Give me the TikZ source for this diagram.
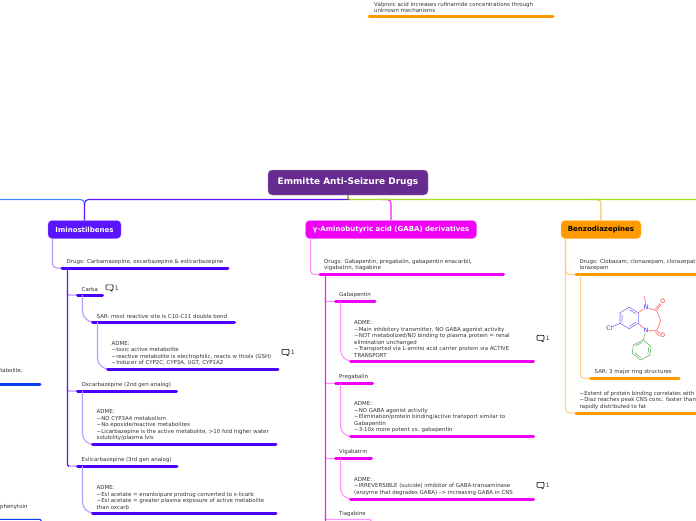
\documentclass[tikz,border=0pt]{standalone}
\usepackage{fontspec}
\setmainfont{DejaVu Sans}
\definecolor{vio}{HTML}{5A14FF}
\definecolor{viob}{HTML}{4B00FF}
\definecolor{viol}{HTML}{B79CFF}
\definecolor{mag}{HTML}{F020F8}
\definecolor{magb}{HTML}{F000F5}
\definecolor{magl}{HTML}{FF90FF}
\definecolor{org}{HTML}{FF9A00}
\definecolor{orgl}{HTML}{FFD089}
\definecolor{pur}{HTML}{672A8E}
\definecolor{txt}{HTML}{333333}
\definecolor{lblue}{HTML}{3B8BFF}
\definecolor{lgreen}{HTML}{A6DC20}
\definecolor{dblue}{HTML}{0B3CF0}
\definecolor{olive}{HTML}{8A8A30}
\tikzset{
 x=1pt,y=-1pt,
 lab/.style={anchor=south west,inner sep=0pt,align=left,text=txt,font=\fontsize{5.45}{6.55}\selectfont},
 bar/.style={line width=3pt,line cap=round},
 top/.style={rounded corners=4pt,minimum height=18pt,inner sep=0pt,text=white,font=\bfseries\fontsize{7}{8}\selectfont},
 note/.style={font=\fontsize{6}{7}\selectfont,text=txt,inner sep=0pt},
 link/.style={line width=1.1pt,rounded corners=4pt},
 swoop/.style={line width=1.1pt,rounded corners=11pt},
 nub/.style={line width=1.1pt,rounded corners=1pt},
 mol/.style={line width=.6pt},
 molr/.style={line width=.6pt,rounded corners=1.5pt},
 atom/.style={inner sep=0pt,font=\fontsize{6}{7}\selectfont},
}
\newcommand{\cmt}[3]{\draw[line width=.6pt,line join=round,shift={(#2,#3)}] (0.8,-3.2)--(6.2,-3.2)--(7,-2.4)--(7,1)--(6.2,1.8)--(5.8,1.8)--(6.2,3.4)--(4,1.8)--(0.8,1.8)--(0,1)--(0,-2.4)--cycle;
\node[note] (#1) at (#2+10.8,#3) {1};}
\begin{document}
\begin{tikzpicture}
\useasboundingbox (0,0) rectangle (696,520);
\node[rounded corners=4pt,fill=pur,draw=pur!55!white,minimum width=160pt,minimum height=25pt,inner sep=0pt,text=white,font=\bfseries\fontsize{8.95}{10}\selectfont] (root) at (348,182.5) {Emmitte Anti-Seizure Drugs};
\coordinate (hub) at (348,199.5);
\coordinate (west) at (0,199.5);
\coordinate (east) at (704,199.5);
\coordinate (forkw) at (84.5,199.5);
% level 1
\node[top,fill=vio,draw=vio!60!white,minimum width=73pt] (imin) at (84.5,229.5) {Iminostilbenes};
\node[top,fill=magb,draw=magb!60!white,minimum width=171pt] (gaba) at (391,229.5) {γ-Aminobutyric acid (GABA) derivatives};
\node[top,fill=org,draw=org!60!white,minimum width=80pt,text=black] (benzo) at (601,229.5) {Benzodiazepines};
\draw[link,lblue] (west) -- (forkw) -- (84.5,206);
\draw[link,vio] (hub) -- (forkw) -- (imin.north);
\draw[link,mag] (381,199.5) -- (391,199.5) -- (gaba.north);
\draw[link,orgl!70!org] (591,199.5) -- (601,199.5) -- (benzo.north);
\draw[link,lgreen] (hub) -- (east) -- (704,210);
\draw[nub,olive] (root.south) -- (hub) -- (350,199.5);
% Iminostilbenes
\coordinate (a1a) at (62,268); \coordinate (a1b) at (228,268);
\coordinate (a1s) at (52.5,238.5);
\draw[link,viol] (a1s) -- (52.5,268) -- (a1a);
\draw[bar,viob] (a1a) -- (a1b);
\node[lab] (a1) at (66.5,264.5) {Drugs: Carbamazepine, oxcarbazepine \& eslicarbazepine};
\coordinate (a2a) at (77.5,295); \coordinate (a2b) at (102.5,295);
\coordinate (a5a) at (77.5,391); \coordinate (a5b) at (176.5,391);
\coordinate (a7a) at (77.5,466); \coordinate (a7b) at (177,466);
\coordinate (at) at (67.5,268); \coordinate (a2t) at (67.5,295); \coordinate (a5t) at (67.5,391); \coordinate (a7t) at (67.5,466);
\draw[nub,viol] (67.5,291) -- (a2t) -- (a2a);
\draw[nub,viol] (67.5,387) -- (a5t) -- (a5a);
\draw[nub,viol] (67.5,462) -- (a7t) -- (a7a);
\draw[nub,vio] (at) -- (a7t) -- (69,466);
\draw[bar,viob] (a2a) -- (a2b);
\node[lab] (a2) at (81.5,291.5) {Carba};
\cmt{c1}{106}{288}
\coordinate (a3a) at (92.5,322); \coordinate (a3b) at (234.5,322);
\draw[swoop,viol] (82.5,295) -- (82.5,322) -- (a3a);
\draw[bar,viob] (a3a) -- (a3b);
\node[lab] (a3) at (96.5,318.5) {SAR: most reactive site is C10-C11 double bond};
\coordinate (a4a) at (107.5,369); \coordinate (a4b) at (278,369);
\draw[swoop,viol] (97.5,322) -- (97.5,369) -- (a4a);
\draw[bar,viob] (a4a) -- (a4b);
\node[lab] (a4) at (111.5,365.5) {ADME:\\\textasciitilde toxic active metabolite\\\textasciitilde reactive metabolite is electrophilic, reacts w thiols (GSH)\\\textasciitilde Inducer of CYP2C, CYP3A, UGT, CYP1A2};
\cmt{c2}{282}{352.5}
\draw[bar,viob] (a5a) -- (a5b);
\node[lab] (a5) at (81.5,387.5) {Oxcarbazepine (2nd gen analog)};
\coordinate (a6a) at (92.5,444.5); \coordinate (a6b) at (276,444.5);
\draw[swoop,viol] (82.5,391) -- (82.5,444.5) -- (a6a);
\draw[bar,viob] (a6a) -- (a6b);
\node[lab] (a6) at (96.5,441) {ADME:\\\textasciitilde NO CYP3A4 metabolism\\\textasciitilde No epoxide/reactive metabolites\\\textasciitilde Licarbazepine is the active metabolite, >10 fold higher water\\solubility/plasma lvls};
\draw[bar,viob] (a7a) -- (a7b);
\node[lab] (a7) at (81.5,462.5) {Eslicarbazepine (3rd gen analog)};
\coordinate (a8a) at (92.5,513); \coordinate (a8b) at (276,513);
\draw[swoop,viol] (82.5,466) -- (82.5,513) -- (a8a);
\draw[bar,viob] (a8a) -- (a8b);
\node[lab] (a8) at (96.5,509.5) {ADME:\\\textasciitilde Esl acetate = enantoipure prodrug converted to s-licarb\\\textasciitilde Esl acetate = greater plasma exposure of active metabolite\\than oxcarb};
% left fragments
\coordinate (l1a) at (0,384); \coordinate (l1b) at (40,384);
\draw[bar,dblue] (l1a) -- (l1b);
\node[lab,anchor=south east] (l1) at (23,373.5) {tabolite,};
\node[lab,anchor=south west] (l2) at (0,510) {phenytoin};
\coordinate (l2a) at (0,519.3); \coordinate (l2b) at (41,519.3);
\draw[nub,dblue] (l2a) -- (l2b) -- (41,525);
% GABA
\coordinate (b1a) at (320,274.5); \coordinate (b1b) at (503.5,274.5);
\draw[link,magl] (310.5,238.5) -- (310.5,274.5) -- (b1a);
\coordinate (b2a) at (335.5,301.5); \coordinate (b2b) at (375,301.5);
\coordinate (b4a) at (335.5,383.5); \coordinate (b4b) at (372.5,383.5);
\coordinate (b6a) at (335.5,458.5); \coordinate (b6b) at (371.5,458.5);
\coordinate (b8b) at (371,519.5);
\coordinate (bt) at (325.5,274.5); \coordinate (b2t) at (325.5,301.5); \coordinate (b4t) at (325.5,383.5); \coordinate (b6t) at (325.5,458.5); \coordinate (b8t) at (325.5,519.5); \coordinate (bend) at (325.5,526);
\draw[nub,magl] (325.5,298) -- (b2t) -- (b2a);
\draw[nub,magl] (325.5,380) -- (b4t) -- (b4a);
\draw[nub,magl] (325.5,455) -- (b6t) -- (b6a);
\draw[nub,magl] (325.5,515) -- (b8t) -- (b8b) -- (371,526);
\draw[nub,mag] (bt) -- (bend) -- (330,526);
\draw[bar,magb] (b1a) -- (b1b);
\node[lab] (b1) at (324,271) {Drugs: Gabapentin, pregabalin, gabapentin enacarbil,\\vigabatrin, tiagabine};
\draw[bar,magb] (b2a) -- (b2b);
\node[lab] (b2) at (339,298) {Gabapentin};
\coordinate (b3a) at (350.5,361); \coordinate (b3b) at (533.5,361);
\draw[swoop,magl] (340.5,301.5) -- (340.5,361) -- (b3a);
\draw[bar,magb] (b3a) -- (b3b);
\node[lab] (b3) at (354,357.5) {ADME:\\\textasciitilde Main inhibitory transmitter, NO GABA agonist activity\\\textasciitilde NOT metabolized/NO binding to plasma protein = renal\\elimination unchanged\\\textasciitilde Transported via L-amino acid carrier protein via ACTIVE\\TRANSPORT};
\cmt{c3}{537}{338.5}
\draw[bar,magb] (b4a) -- (b4b);
\node[lab] (b4) at (339,380) {Pregabalin};
\coordinate (b5a) at (350.5,436.5); \coordinate (b5b) at (533.5,436.5);
\draw[swoop,magl] (340.5,383.5) -- (340.5,436.5) -- (b5a);
\draw[bar,magb] (b5a) -- (b5b);
\node[lab] (b5) at (354,433) {ADME:\\\textasciitilde NO GABA agonist activity\\\textasciitilde Elimination/protein binding/active transport similar to\\Gabapentin\\\textasciitilde 3-10x more potent vs. gabapentin};
\draw[bar,magb] (b6a) -- (b6b);
\node[lab] (b6) at (339,455) {Vigabatrin};
\coordinate (b7a) at (350.5,499); \coordinate (b7b) at (533.5,499);
\draw[swoop,magl] (340.5,458.5) -- (340.5,499) -- (b7a);
\draw[bar,magb] (b7a) -- (b7b);
\node[lab] (b7) at (354,495.5) {ADME:\\\textasciitilde IRREVERSIBLE (suicide) inhibitor of GABA-transaminase\\(enzyme that degrades GABA) --> increasing GABA in CNS};
\cmt{c4}{537}{485.5}
\node[lab] (b8) at (339,516.5) {Tiagabine};
% Benzo
\coordinate (o1a) at (576,274.5); \coordinate (o1b) at (696,274.5);
\draw[link,orgl] (565.5,238.5) -- (565.5,413) -- (576,413);
\draw[link,orgl] (565.5,238.5) -- (565.5,274.5) -- (o1a);
\draw[bar,org] (o1a) -- (o1b);
\node[lab] (o1) at (579.5,271) {Drugs: Clobazam, clonazepam, clorazepat\\lorazepam};
\coordinate (o2a) at (590.5,378.5); \coordinate (o2b) at (679,378.5);
\draw[link,orgl] (580.5,274.5) -- (580.5,378.5) -- (o2a);
\draw[bar,org] (o2a) -- (o2b);
\node[lab] (o2) at (594.5,375) {SAR: 3 major ring structures};
\coordinate (o3a) at (576,413); \coordinate (o3b) at (696,413);
\draw[bar,org] (o3a) -- (o3b);
\node[lab] (o3) at (579.5,409.5) {\textasciitilde Extent of protein binding correlates with\\\textasciitilde Diaz reaches peak CNS conc. faster than\\rapidly distributed to fat};
% molecule
\node[atom,text=blue!85!white] (cl) at (609.3,328.3) {Cl};
\node[atom,text=blue!85!white] (n1) at (646,307.3) {N};
\node[atom,text=blue!85!white] (n2) at (646,330.7) {N};
\node[atom,text=red!85!white] (ox1) at (662.7,301.7) {O};
\node[atom,text=red!85!white] (ox2) at (662.7,335.7) {O};
\coordinate (me) at (644,296);
\coordinate (ph) at (643.3,340);
\draw[mol,blue!55!white,line join=round] (620,312.7) -- (629.3,307.3) -- (638.3,312.7) -- (638.3,323.3) -- (629.3,328.7) -- (620,323.3) -- cycle;
\draw[mol,blue!55!white] (622,314.5) -- (622,321.5) (629.3,309.7) -- (636,313.7) (629.3,326.3) -- (636,322.3);
\draw[molr,blue!55!white] (620,323.3) -- (613,326.5) -- (cl);
\draw[mol,red!60!white] (638.3,312.7) -- (n1) -- (656.7,310.7) -- (660.7,320.7) -- (656.7,330.7) -- (n2) -- (638.3,323.3);
\draw[molr,red!60!white] (n1) -- (645.4,301) -- (me);
\draw[mol,red!60!white] (656.7,310.7) -- (ox1) (655.2,309.4) -- (660,303.4);
\draw[mol,red!60!white] (656.7,330.7) -- (ox2) (655.4,332.2) -- (659.8,336.2);
\draw[molr,green!50!black!60!white] (n2) -- (644.2,336) -- (ph);
\draw[mol,green!50!black!60!white,line join=round] (643.3,340) -- (651,346.7) -- (650,355) -- (640.7,360) -- (632.3,353.3) -- (633.3,345) -- cycle;
\draw[mol,green!50!black!60!white] (635.3,346) -- (642.5,342.2) (648.6,347.5) -- (648,354) (640.8,357.6) -- (634.5,352.5);
% top
\coordinate (t1a) at (369,16.5); \coordinate (t1b) at (553,16.5);
\draw[bar,org] (t1a) -- (t1b);
\node[lab] (t1) at (374,13) {Valproic acid increases rufinamide concentrations through\\unknown mechanisms};
\end{tikzpicture}
\end{document}
